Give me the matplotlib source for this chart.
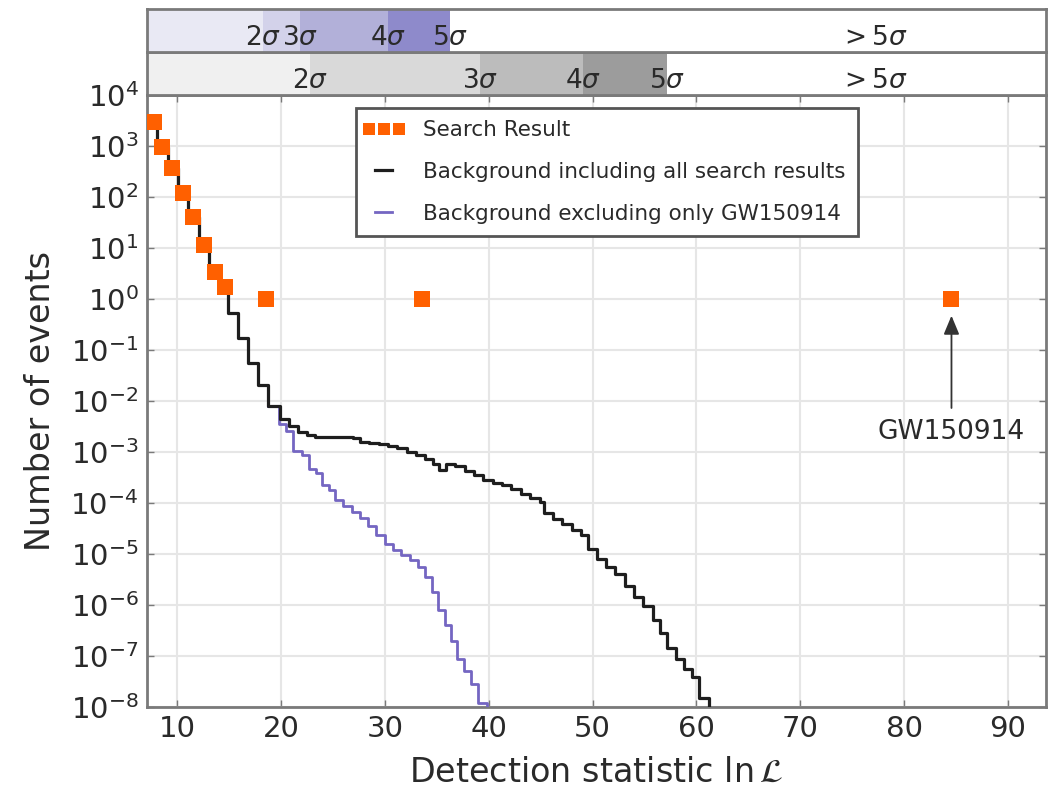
import numpy as np
import matplotlib
matplotlib.use("Agg")
import matplotlib.pyplot as plt
from matplotlib.legend_handler import HandlerLine2D

# ---------------- data ----------------
search_x = [7.74, 8.52, 9.56, 10.60, 11.54, 12.55, 13.61, 14.62, 18.56, 33.55, 84.56]
search_y = [2950, 970, 366, 121, 40.5, 11.2, 3.4, 1.74, 1.0, 1.0, 1.0]

bg_all_x = [7.1, 8.1, 9.1, 10.1, 11.1, 12.1, 13.1, 14.1, 14.9, 15.9, 16.8, 17.8, 18.8,
            19.9, 20.8, 21.6, 22.5, 23.3, 24.2, 25.1, 26.0, 26.9, 27.6, 28.5, 29.4, 30.3,
            31.2, 32.1, 33.0, 33.9, 34.6, 35.2, 35.9, 36.8, 37.7, 38.6, 39.5, 40.4, 41.3,
            42.2, 43.1, 44.0, 44.9, 45.3, 46.2, 47.1, 48.0, 48.9, 49.6, 50.4, 51.3, 52.2,
            53.1, 54.0, 54.9, 55.8, 56.5, 57.2, 58.0, 58.8, 59.6, 60.3, 61.2]
bg_all_exp = [3.47, 2.98, 2.57, 2.08, 1.61, 1.06, 0.55, 0.24, -0.27, -0.76, -1.25, -1.69, -2.10,
              -2.35, -2.50, -2.60, -2.66, -2.70, -2.71, -2.71, -2.71, -2.72, -2.80, -2.82, -2.85, -2.88,
              -2.92, -3.00, -3.06, -3.14, -3.24, -3.35, -3.24, -3.27, -3.38, -3.46, -3.55, -3.60, -3.65,
              -3.72, -3.82, -3.90, -3.98, -4.20, -4.32, -4.42, -4.52, -4.62, -4.90, -5.10, -5.25, -5.40,
              -5.62, -5.85, -6.02, -6.30, -6.55, -6.85, -7.05, -7.25, -7.42, -7.82, -9.0]

bg_excl_x = [18.8, 19.8, 20.5, 21.2, 22.0, 22.7, 23.4, 24.0, 24.6, 25.2, 26.0, 26.8, 27.6,
             28.4, 29.2, 30.0, 30.8, 31.6, 32.4, 33.2, 33.9, 34.5, 35.1, 35.8, 36.4, 37.0,
             37.6, 38.3, 39.0, 39.8]
bg_excl_exp = [-2.10, -2.45, -2.58, -2.98, -3.06, -3.33, -3.42, -3.65, -3.75, -3.94, -4.05, -4.18, -4.30,
               -4.45, -4.62, -4.80, -4.92, -5.02, -5.12, -5.25, -5.45, -5.75, -6.10, -6.40, -6.70, -7.05,
               -7.30, -7.55, -7.92, -9.0]

# significance thresholds (in detection statistic)
excl_sigma_edges = [18.27, 21.84, 30.31, 36.27]
excl_sigma_labels = [r'$2\sigma$', r'$3\sigma$', r'$4\sigma$', r'$5\sigma$']
excl_sigma_colors = ['#e9e9f4', '#d3d2ea', '#b2b0d9', '#8e8acb']
all_sigma_edges = [22.8, 39.16, 49.07, 57.16]
all_sigma_labels = [r'$2\sigma$', r'$3\sigma$', r'$4\sigma$', r'$5\sigma$']
all_sigma_colors = ['#f0f0f0', '#d9d9d9', '#bcbcbc', '#9c9c9c']
beyond_label = r'$>5\sigma$'
beyond_x = 77.0

y_ticks_exp = list(range(-8, 5))
x_ticks = [10, 20, 30, 40, 50, 60, 70, 80, 90]
xlim = (7.11, 93.66)

gw_x = 84.56
gw_text_exp = -2.61

# ---------------- figure ----------------
fig = plt.figure(figsize=(10.5, 7.91), dpi=100)
L, R = 147 / 1050, 1046 / 1050
ax = fig.add_axes([L, 1 - 707 / 791, R - L, (707 - 95) / 791])
ax_b2 = fig.add_axes([L, 1 - 95 / 791, R - L, 43 / 791])
ax_b1 = fig.add_axes([L, 1 - 52 / 791, R - L, 43 / 791])

spine_col = '#7a7a7a'
text_col = '#2a2a2a'

for bax, edges, labels, cols in [(ax_b1, excl_sigma_edges, excl_sigma_labels, excl_sigma_colors),
                                 (ax_b2, all_sigma_edges, all_sigma_labels, all_sigma_colors)]:
    bax.set_xlim(*xlim)
    bax.set_ylim(0, 1)
    left = xlim[0]
    for e, lab, c in zip(edges, labels, cols):
        bax.axvspan(left, e, color=c, lw=0)
        bax.text(e, 0.33, lab, ha='center', va='center', fontsize=19, color=text_col)
        left = e
    bax.text(beyond_x, 0.33, beyond_label, ha='center', va='center', fontsize=19, color=text_col)
    bax.set_xticks([])
    bax.set_yticks([])
    for s in bax.spines.values():
        s.set_color(spine_col)
        s.set_linewidth(2)

# main plot
ax.step(bg_excl_x, 10.0 ** np.array(bg_excl_exp), where='post', color='#7466c2', lw=2,
        label='Background excluding only GW150914', zorder=3)
ax.step(bg_all_x, 10.0 ** np.array(bg_all_exp), where='post', color='#1e1e1e', lw=2.3,
        label='Background including all search results', zorder=4)
ax.plot(search_x, search_y, 's', color='#ff6000', ms=11.5, mew=0, label='Search Result', zorder=5)

ax.set_yscale('log')
ax.set_xlim(*xlim)
ax.set_ylim(1e-8, 1e4)
ax.set_yticks([10.0 ** k for k in y_ticks_exp])
ax.set_yticklabels([r'$10^{%d}$' % k for k in y_ticks_exp])
ax.yaxis.set_minor_locator(matplotlib.ticker.NullLocator())
ax.set_xticks(x_ticks)
ax.grid(True, color='#e6e6e6', lw=1.5)
ax.set_axisbelow(True)
ax.tick_params(direction='in', length=5, width=1, color=spine_col, labelsize=21,
               labelcolor=text_col, top=True, right=True, pad=6)
for s in ax.spines.values():
    s.set_color(spine_col)
    s.set_linewidth(2)

ax.set_xlabel(r'Detection statistic $\ln\mathcal{L}$', fontsize=24, color=text_col, labelpad=9)
ax.set_ylabel('Number of events', fontsize=24, color=text_col, labelpad=10)

ax.annotate('GW150914', xy=(gw_x, 1.0), xytext=(gw_x, 10.0 ** gw_text_exp),
            ha='center', va='center', fontsize=19, color=text_col,
            arrowprops=dict(arrowstyle='-|>,head_length=0.6,head_width=0.25', color='#333333',
                            lw=1.3, shrinkA=6, shrinkB=12))

handles, labels = ax.get_legend_handles_labels()
order = [2, 1, 0]
leg = ax.legend([handles[i] for i in order], [labels[i] for i in order],
                loc='upper right', bbox_to_anchor=(0.798, 0.99), fontsize=15.5,
                numpoints=3, markerscale=0.75, fancybox=False, framealpha=1,
                labelspacing=1.0, handlelength=1.4, borderpad=0.6, handletextpad=1.1,
                borderaxespad=0.3,
                handler_map={handles[2]: HandlerLine2D(marker_pad=0.0, numpoints=3)})
leg.get_frame().set_edgecolor('#555555')
leg.get_frame().set_linewidth(2)
for t in leg.get_texts():
    t.set_color(text_col)

fig.savefig('out.png', dpi=100)
